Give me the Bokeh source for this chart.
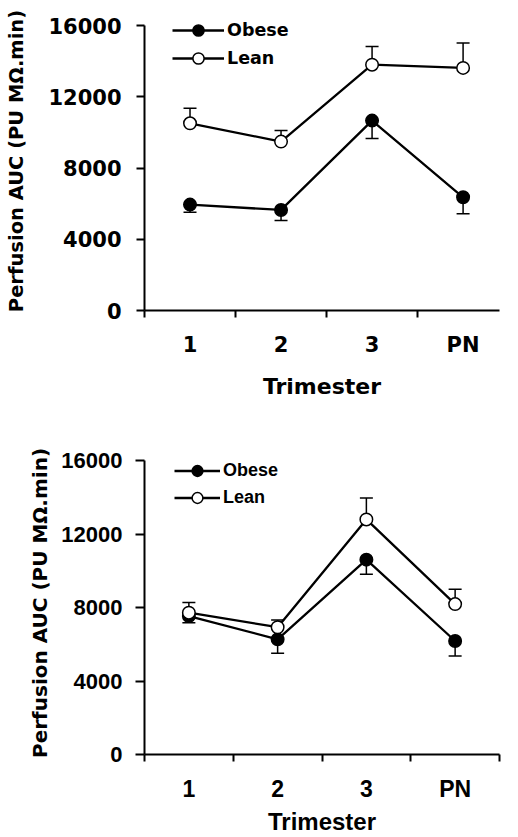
from bokeh.plotting import figure
from bokeh.layouts import column
from bokeh.models import Range1d, FixedTicker, Legend, LegendItem
from bokeh.embed import file_html
from bokeh.resources import INLINE

# ---- data ----
trimesters = ["1", "2", "3", "PN"]
x_pos = [1, 2, 3, 4]
y_ticks = [0, 4000, 8000, 12000, 16000]
y_label = "Perfusion AUC (PU MΩ.min)"
x_label = "Trimester"

top_obese = [5950, 5650, 10670, 6360]
top_obese_sem = [430, 600, 1000, 930]
top_lean = [10520, 9490, 13810, 13630]
top_lean_sem = [840, 620, 1030, 1400]

bot_obese = [7540, 6270, 10610, 6180]
bot_obese_sem = [370, 760, 790, 810]
bot_lean = [7720, 6930, 12800, 8190]
bot_lean_sem = [560, 390, 1170, 810]


def make_panel(obese, obese_sem, lean, lean_sem, cfg):
    p = figure(width=510, height=cfg["height"],
               x_range=Range1d(0.5, cfg["xmax"]), y_range=Range1d(0, cfg["ymax"]),
               output_backend="svg", toolbar_location=None,
               min_border_left=cfg["bl"], min_border_right=cfg["br"],
               min_border_top=cfg["bt"], min_border_bottom=cfg["bb"])
    p.outline_line_color = None
    p.xgrid.visible = False
    p.ygrid.visible = False
    p.background_fill_color = "white"
    p.border_fill_color = "white"

    # x axis: categories labelled at centres, ticks between them
    xa = p.xaxis[0]
    xa.ticker = FixedTicker(ticks=x_pos, minor_ticks=[0.5, 1.5, 2.5, 3.5, 4.5])
    xa.major_label_overrides = {x: t for x, t in zip(x_pos, trimesters)}
    xa.major_tick_out = 0
    xa.major_tick_in = 0
    xa.minor_tick_out = 7
    xa.minor_tick_in = 0
    xa.minor_tick_line_width = 2
    xa.minor_tick_line_color = "black"
    xa.axis_line_width = 2
    xa.axis_line_color = "black"
    xa.major_label_text_font = cfg["font"]
    xa.major_label_text_font_style = "bold"
    xa.major_label_text_font_size = cfg["xlab_size"]
    xa.major_label_text_color = "black"
    xa.major_label_standoff = cfg["xlab_standoff"]
    xa.axis_label = x_label
    xa.axis_label_text_font = cfg["font"]
    xa.axis_label_text_font_style = "bold"
    xa.axis_label_text_font_size = cfg["xtitle_size"]
    xa.axis_label_text_color = "black"
    xa.axis_label_standoff = cfg["xtitle_standoff"]

    ya = p.yaxis[0]
    ya.ticker = FixedTicker(ticks=y_ticks, minor_ticks=[])
    ya.bounds = (y_ticks[0], y_ticks[-1])
    ya.major_tick_out = cfg["ytick"]
    ya.major_tick_in = 0
    ya.major_tick_line_width = 2
    ya.major_tick_line_color = "black"
    ya.axis_line_width = 2
    ya.axis_line_color = "black"
    ya.major_label_text_font = cfg["font"]
    ya.major_label_text_font_style = "bold"
    ya.major_label_text_font_size = cfg["ylab_size"]
    ya.major_label_text_color = "black"
    ya.major_label_standoff = cfg["ylab_standoff"]
    ya.axis_label = y_label
    ya.axis_label_text_font = "DejaVu Sans"
    ya.axis_label_text_font_style = "bold"
    ya.axis_label_text_font_size = cfg["ytitle_size"]
    ya.axis_label_text_color = "black"
    ya.axis_label_standoff = cfg["ytitle_standoff"]

    # error bars (one-sided: obese down, lean up)
    obese_lo = [v - e for v, e in zip(obese, obese_sem)]
    lean_hi = [v + e for v, e in zip(lean, lean_sem)]
    p.segment(x0=x_pos, y0=obese, x1=x_pos, y1=obese_lo, line_color="black", line_width=1.5)
    p.scatter(x_pos, obese_lo, marker="dash", size=13, line_color="black", line_width=1.5)
    p.segment(x0=x_pos, y0=lean, x1=x_pos, y1=lean_hi, line_color="black", line_width=1.5)
    p.scatter(x_pos, lean_hi, marker="dash", size=13, line_color="black", line_width=1.5)

    lo = p.line(x_pos, obese, line_color="black", line_width=2.3)
    ll = p.line(x_pos, lean, line_color="black", line_width=2.3)
    so = p.scatter(x_pos, obese, marker="circle", size=12.5, fill_color="black",
                   line_color="black", line_width=1.5)
    sl = p.scatter(x_pos, lean, marker="circle", size=12.5, fill_color="white",
                   line_color="black", line_width=1.5)

    legend = Legend(items=[LegendItem(label="Obese", renderers=[lo, so]),
                           LegendItem(label="Lean", renderers=[ll, sl])],
                    location=cfg["leg_loc"], orientation="vertical",
                    glyph_width=cfg["leg_gw"], glyph_height=cfg["leg_pitch"],
                    label_height=cfg["leg_pitch"], spacing=0, padding=0, margin=0,
                    label_standoff=3, border_line_color=None,
                    background_fill_alpha=0,
                    label_text_font=cfg["font"], label_text_font_style="bold",
                    label_text_font_size=cfg["leg_size"], label_text_color="black")
    p.add_layout(legend)
    return p


cfg_top = dict(height=410, xmax=4.4, ymax=16800, bl=137, br=1, bt=11, bb=100,
               font="DejaVu Sans", xlab_size="21px", xlab_standoff=15,
               xtitle_size="22px", xtitle_standoff=14, ytick=8,
               ylab_size="21px", ylab_standoff=15, ytitle_size="19.5px",
               ytitle_standoff=17, leg_loc=(28, 238), leg_gw=52, leg_pitch=28,
               leg_size="17.5px")
cfg_bot = dict(height=427, xmax=4.5, ymax=16500, bl=144, br=11, bt=41, bb=82,
               font="Liberation Sans", xlab_size="23px", xlab_standoff=14,
               xtitle_size="24px", xtitle_standoff=3, ytick=9,
               ylab_size="22px", ylab_standoff=13, ytitle_size="20px",
               ytitle_standoff=6, leg_loc=(30, 243), leg_gw=46, leg_pitch=27,
               leg_size="18px")

p1 = make_panel(top_obese, top_obese_sem, top_lean, top_lean_sem, cfg_top)
p2 = make_panel(bot_obese, bot_obese_sem, bot_lean, bot_lean_sem, cfg_bot)

layout = column(p1, p2, spacing=0)
open("out.html", "w").write(file_html(layout, INLINE))
